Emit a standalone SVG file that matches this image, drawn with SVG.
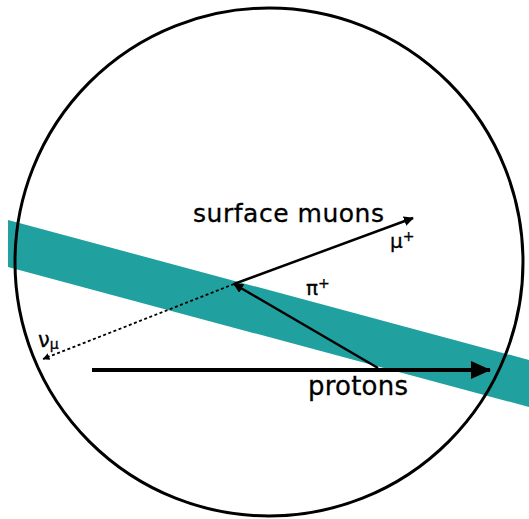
<svg xmlns="http://www.w3.org/2000/svg" width="529" height="519" viewBox="0 0 529 519">
<style>
.t{font-family:"DejaVu Sans","Liberation Sans",sans-serif;fill:#000;stroke:#000;stroke-width:0.3}
.ln{stroke:#000;fill:none}
</style>
<defs>
<marker id="ah" markerWidth="10" markerHeight="10" refX="9" refY="5" orient="auto" markerUnits="userSpaceOnUse" viewBox="0 0 10 10">
<path d="M0,0 L10,5 L0,10 Z" fill="#000"/>
</marker>
<marker id="ahs" markerWidth="7" markerHeight="7" refX="6.5" refY="3.5" orient="auto" markerUnits="userSpaceOnUse" viewBox="0 0 7 7">
<path d="M0,0 L7,3.5 L0,7 Z" fill="#000"/>
</marker>
<marker id="ahb" markerWidth="20" markerHeight="18" refX="19" refY="9" orient="auto" markerUnits="userSpaceOnUse" viewBox="0 0 20 18">
<path d="M0,0 L20,9 L0,18 Z" fill="#000"/>
</marker>
</defs>
<rect width="529" height="519" fill="#fff"/>
<g id="beam">
<polygon points="8,220 529,360 529,407 8,267" fill="#21a0a0"/>
</g>
<g id="target">
<circle cx="269" cy="262" r="254" fill="none" stroke="#000" stroke-width="3"/>
</g>
<g id="connectors">
<line class="ln" x1="92" y1="370" x2="490" y2="370" stroke-width="4" marker-end="url(#ahb)"/>
<line class="ln" x1="378" y1="368" x2="234" y2="284" stroke-width="2.5" marker-end="url(#ah)"/>
<line class="ln" x1="234" y1="284" x2="413" y2="218" stroke-width="2.5" marker-end="url(#ah)"/>
<line class="ln" x1="234" y1="284" x2="43" y2="359" stroke-width="1.8" stroke-dasharray="3,2.5" marker-end="url(#ahs)"/>
</g>
<g id="labels">
<text class="t" x="193" y="222" font-size="25" textLength="191" lengthAdjust="spacing">surface muons</text>
<text class="t" x="390" y="248" font-size="20">μ<tspan font-size="14" dy="-7">+</tspan></text>
<text class="t" x="306" y="295" font-size="20">π<tspan font-size="14" dy="-7">+</tspan></text>
<text class="t" x="38" y="347" font-size="21">ν<tspan font-size="14" dy="2">μ</tspan></text>
<text class="t" x="308" y="395" font-size="26" textLength="100" lengthAdjust="spacing">protons</text>
</g>
</svg>
